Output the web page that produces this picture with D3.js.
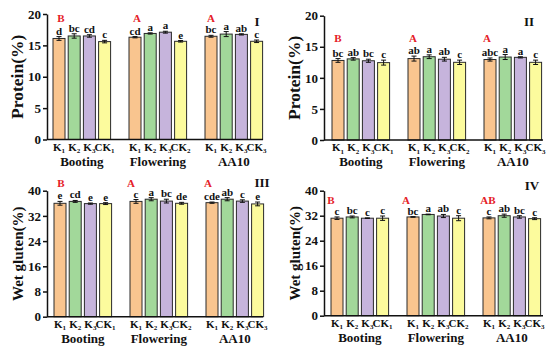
<!DOCTYPE html>
<html><head><meta charset="utf-8">
<script src="https://cdn.jsdelivr.net/npm/d3@7"></script>
<style>
html,body{margin:0;padding:0;background:#fff;}
svg{display:block;font-family:"Liberation Serif","Times New Roman",serif;font-weight:bold;}
</style></head>
<body>
<svg id="chart" width="550" height="351"></svg>
<script>
// ---------- data ----------
const groups = ["Booting", "Flowering", "AA10"];
const barNames = ["K", "K", "K", "CK", "K", "K", "K", "CK", "K", "K", "K", "CK"];
const barSubs  = ["1", "2", "3", "1", "1", "2", "3", "2", "1", "2", "3", "3"];
const seriesColors = ["#f9c58f", "#a2d89a", "#c6b4dc", "#fcfb9d"];

const proteinI      = [16.1, 16.5, 16.5, 15.6, 16.3, 16.9, 17.1, 15.65, 16.45, 16.8, 16.75, 15.65];
const proteinIErr   = [0.3, 0.35, 0.2, 0.2, 0.1, 0.1, 0.15, 0.12, 0.15, 0.4, 0.1, 0.2];
const proteinILet   = ["d", "bc", "cd", "c", "cd", "a", "a", "e", "bc", "a", "ab", "c"];
const proteinIGrp   = ["B", "A", "A"];

const proteinII     = [12.8, 13.05, 12.75, 12.45, 13.1, 13.4, 13.0, 12.5, 12.95, 13.35, 13.3, 12.5];
const proteinIIErr  = [0.3, 0.2, 0.25, 0.4, 0.4, 0.3, 0.3, 0.35, 0.25, 0.4, 0.1, 0.35];
const proteinIILet  = ["bc", "ab", "bc", "c", "ab", "a", "ab", "c", "abc", "a", "a", "c"];
const proteinIIGrp  = ["B", "A", "A"];

const glutenIII     = [36.0, 36.6, 35.9, 35.9, 36.6, 37.3, 36.7, 36.0, 36.2, 37.3, 36.7, 35.8];
const glutenIIIErr  = [0.6, 0.3, 0.2, 0.3, 0.6, 0.5, 0.6, 0.3, 0.2, 0.5, 0.4, 0.6];
const glutenIIILet  = ["e", "cd", "e", "e", "c", "a", "bc", "de", "cde", "ab", "c", "e"];
const glutenIIIGrp  = ["B", "A", "A"];

const glutenIV      = [31.2, 31.6, 31.2, 31.2, 31.6, 32.4, 31.9, 31.2, 31.3, 32.0, 31.6, 31.05];
const glutenIVErr   = [0.4, 0.3, 0.1, 0.7, 0.1, 0.1, 0.5, 0.8, 0.3, 0.5, 0.4, 0.3];
const glutenIVLet   = ["c", "bc", "c", "c", "bc", "a", "ab", "c", "c", "ab", "bc", "c"];
const glutenIVGrp   = ["B", "A", "AB"];

const proteinTicks = [0, 5, 10, 15, 20];
const glutenTicks  = [0, 8, 16, 24, 32, 40];

// ---------- layout ----------
const panels = [
  {values: proteinI, err: proteinIErr, lets: proteinILet, grp: proteinIGrp, ticks: proteinTicks, ymax: 20,
   title: "Protein(%)", roman: "I", axisX: 47, yTop: 14, yBot: 139.5, xEnd: 263, firstBar: 53,
   titleSize: 17.5, romanX: 257, romanY: 26, grpY: 21.5, grpDx: [2, 2, 0]},
  {values: proteinII, err: proteinIIErr, lets: proteinIILet, grp: proteinIIGrp, ticks: proteinTicks, ymax: 20,
   title: "Protein(%)", roman: "II", axisX: 324, yTop: 15.7, yBot: 140, xEnd: 543, firstBar: 332,
   titleSize: 17.5, romanX: 529, romanY: 26, grpY: 42, grpDx: [0, -1, -3]},
  {values: glutenIII, err: glutenIIIErr, lets: glutenIIILet, grp: glutenIIIGrp, ticks: glutenTicks, ymax: 40,
   title: "Wet gluten(%)", roman: "III", axisX: 47, yTop: 190.7, yBot: 316.7, xEnd: 263, firstBar: 54,
   titleSize: 15, romanX: 262, romanY: 187, grpY: 187, grpDx: [1, -5, -4]},
  {values: glutenIV, err: glutenIVErr, lets: glutenIVLet, grp: glutenIVGrp, ticks: glutenTicks, ymax: 40,
   title: "Wet gluten(%)", roman: "IV", axisX: 324, yTop: 190.7, yBot: 315.7, xEnd: 543, firstBar: 331,
   titleSize: 15, romanX: 532, romanY: 190, grpY: 204, grpDx: [-6, -7, -1]}
];

const svg = d3.select("#chart");
const slotOf = i => Math.floor(i / 4) * 5 + (i % 4);

panels.forEach(p => {
  const g = svg.append("g");
  const step = 15.2, bw = 12;
  const x = d3.scaleBand().domain(d3.range(14))
    .range([p.firstBar, p.firstBar + 13 * step + bw])
    .paddingInner(1 - bw / step).paddingOuter(0);
  const y = d3.scaleLinear().domain([0, p.ymax]).range([p.yBot, p.yTop]);

  // bars
  g.selectAll("rect.bar").data(p.values).join("rect")
    .attr("x", (d, i) => x(slotOf(i)))
    .attr("y", d => y(d))
    .attr("width", x.bandwidth())
    .attr("height", d => y(0) - y(d))
    .attr("fill", (d, i) => seriesColors[i % 4])
    .attr("stroke", "#2a2a2a").attr("stroke-width", 1);

  // error bars
  const eb = g.selectAll("g.eb").data(p.values).join("g")
    .attr("stroke", "#111").attr("stroke-width", 1);
  eb.append("line")
    .attr("x1", (d, i) => x(slotOf(i)) + x.bandwidth() / 2)
    .attr("x2", (d, i) => x(slotOf(i)) + x.bandwidth() / 2)
    .attr("y1", (d, i) => y(d - p.err[i]))
    .attr("y2", (d, i) => y(d + p.err[i]));
  [1, -1].forEach(s => {
    eb.append("line")
      .attr("x1", (d, i) => x(slotOf(i)) + x.bandwidth() / 2 - 2.5)
      .attr("x2", (d, i) => x(slotOf(i)) + x.bandwidth() / 2 + 2.5)
      .attr("y1", (d, i) => y(d + s * p.err[i]))
      .attr("y2", (d, i) => y(d + s * p.err[i]));
  });

  // significance letters
  g.selectAll("text.sig").data(p.values).join("text")
    .attr("x", (d, i) => x(slotOf(i)) + x.bandwidth() / 2)
    .attr("y", (d, i) => y(d + p.err[i]) - 2)
    .attr("text-anchor", "middle").attr("font-size", 11).attr("fill", "#111")
    .text((d, i) => p.lets[i]);

  // group letters (red)
  g.selectAll("text.grp").data(p.grp).join("text")
    .attr("x", (d, k) => x(k * 5) + x.bandwidth() / 2 + p.grpDx[k])
    .attr("y", p.grpY)
    .attr("text-anchor", "middle").attr("font-size", 11).attr("fill", "#e52027")
    .text(d => d);

  // y axis
  const yAxis = d3.axisLeft(y).tickValues(p.ticks).tickSize(4).tickPadding(2).tickSizeOuter(0);
  const ya = g.append("g").attr("transform", `translate(${p.axisX},0)`).call(yAxis);
  ya.select(".domain").attr("stroke", "#111").attr("stroke-width", 1.5);
  ya.selectAll(".tick line").attr("stroke", "#111").attr("stroke-width", 1.5);
  ya.selectAll(".tick text").attr("font-size", 13).attr("font-family", "Liberation Serif")
    .attr("font-weight", "bold").attr("fill", "#111");

  // x axis baseline
  g.append("line").attr("x1", p.axisX).attr("x2", p.xEnd)
    .attr("y1", y(0)).attr("y2", y(0)).attr("stroke", "#111").attr("stroke-width", 1.5);

  // x tick labels
  const tl = g.selectAll("text.xt").data(barNames).join("text")
    .attr("x", (d, i) => x(slotOf(i)) + x.bandwidth() / 2)
    .attr("y", y(0) + 11)
    .attr("text-anchor", "middle").attr("font-size", 11).attr("fill", "#111");
  tl.append("tspan").text(d => d);
  tl.append("tspan").attr("font-size", 7).attr("dy", 2.5).text((d, i) => barSubs[i]);

  // group labels
  g.selectAll("text.gl").data(groups).join("text")
    .attr("x", (d, k) => (x(k * 5) + x(k * 5 + 3) + x.bandwidth()) / 2)
    .attr("y", y(0) + 26)
    .attr("text-anchor", "middle").attr("font-size", 13).attr("fill", "#111")
    .text(d => d);

  // y title
  g.append("text")
    .attr("transform", `translate(${p.axisX - 24},${(p.yTop + p.yBot) / 2}) rotate(-90)`)
    .attr("text-anchor", "middle").attr("font-size", p.titleSize).attr("fill", "#111")
    .text(p.title);

  // roman numeral
  g.append("text").attr("x", p.romanX).attr("y", p.romanY)
    .attr("text-anchor", "middle").attr("font-size", 13).attr("fill", "#111")
    .text(p.roman);
});
</script>
</body></html>
